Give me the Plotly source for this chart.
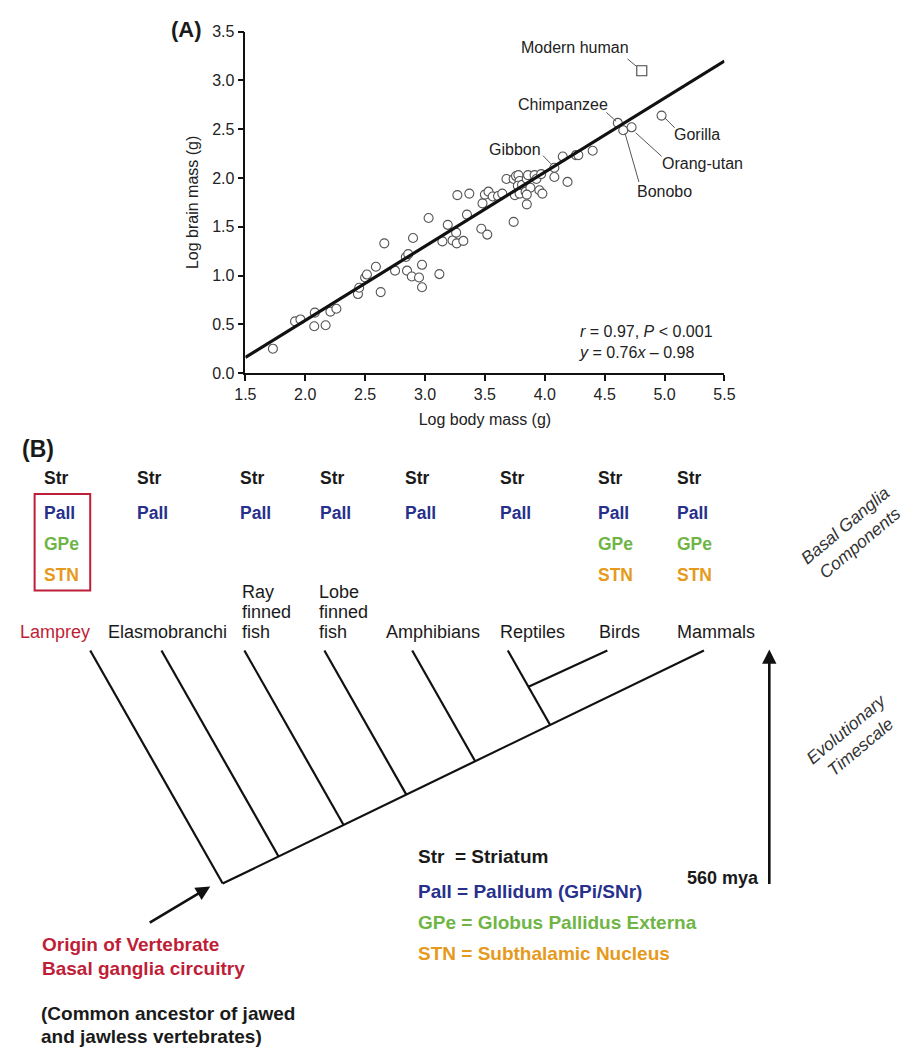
import plotly.graph_objects as go

# Reference frame is 921x1055; the page adds an 8px body margin, so the figure is
# sized 905x1039 and every reference pixel is shifted by OFF.
REF_W, REF_H = 921, 1055
OFF = 8
W, H = REF_W - 2 * OFF, REF_H - 2 * OFF
FONT = "Liberation Sans, Arial, Helvetica, sans-serif"
PAD = 3  # annotation inner padding

# ---------------- Panel A data ----------------
body_mass = [1.73, 1.915, 1.96, 2.08, 2.075, 2.17, 2.21, 2.26, 2.44, 2.45, 2.50, 2.515, 2.59, 2.63,
             2.66, 2.75, 2.84, 2.86, 2.85, 2.89, 2.90, 2.95, 2.975, 2.975, 3.03, 3.12, 3.145, 3.19,
             3.23, 3.26, 3.265, 3.32, 3.35, 3.27, 3.37, 3.47, 3.48, 3.50, 3.52, 3.53,
             3.565, 3.61, 3.645, 3.74, 3.68, 3.74, 3.76, 3.78, 3.79, 3.775, 3.81, 3.85, 3.86, 3.915,
             3.93, 3.97, 3.75, 3.79, 3.84, 3.88, 3.85, 3.85, 3.955, 3.98, 4.08, 4.19, 4.15, 4.26,
             4.28, 4.40]
brain_mass = [0.25, 0.53, 0.55, 0.62, 0.48, 0.49, 0.63, 0.66, 0.81, 0.875, 0.98, 1.01, 1.09, 0.83,
              1.33, 1.05, 1.19, 1.22, 1.05, 0.99, 1.385, 0.98, 1.11, 0.88, 1.59, 1.015, 1.35, 1.52,
              1.36, 1.44, 1.33, 1.355, 1.625, 1.825, 1.84, 1.48, 1.74, 1.83, 1.42, 1.86,
              1.81, 1.815, 1.84, 1.55, 1.99, 1.99, 2.02, 2.03, 1.97, 1.92, 1.93, 1.99, 2.03, 2.03,
              1.99, 2.04, 1.825, 1.84, 1.86, 1.90, 1.83, 1.73, 1.875, 1.84, 2.01, 1.96, 2.22, 2.235,
              2.235, 2.28]

ape_names = ["Gibbon", "Chimpanzee", "Bonobo", "Orang-utan", "Gorilla"]
ape_body = [4.08, 4.61, 4.655, 4.725, 4.975]
ape_brain = [2.105, 2.565, 2.49, 2.52, 2.64]

human_name = "Modern human"
human_body = [4.81]
human_brain = [3.10]

fit_slope = 0.76
fit_intercept = -0.98
fit_x = [1.5, 5.5]

x_ticks = [1.5, 2.0, 2.5, 3.0, 3.5, 4.0, 4.5, 5.0, 5.5]
y_ticks = [0.0, 0.5, 1.0, 1.5, 2.0, 2.5, 3.0, 3.5]

# label placement for named species: (text x, text y, leader start, leader end)
label_pos = {
    "Modern human": (4.254, 3.339, (4.691, 3.221), (4.767, 3.144)),
    "Chimpanzee": (4.148, 2.754, (4.514, 2.673), (4.596, 2.582)),
    "Gibbon": (3.754, 2.290, (3.985, 2.229), (4.052, 2.145)),
    "Gorilla": (5.272, 2.448, (5.003, 2.616), (5.085, 2.515)),
    "Orang-utan": (5.321, 2.148, (4.759, 2.464), (4.976, 2.222)),
    "Bonobo": (5.003, 1.866, (4.670, 2.458), (4.786, 1.960)),
}

# ---------------- Panel B data ----------------
taxa = ["Lamprey", "Elasmobranchi", "Ray\nfinned\nfish", "Lobe\nfinned\nfish",
        "Amphibians", "Reptiles", "Birds", "Mammals"]
has_pall = [True, True, True, True, True, True, True, True]
has_gpe_stn = [True, False, False, False, False, False, True, True]
legend_lines = [("Str  = Striatum", "str"),
                ("Pall = Pallidum (GPi/SNr)", "pall"),
                ("GPe = Globus Pallidus Externa", "gpe"),
                ("STN = Subthalamic Nucleus", "stn")]

COL = {"str": "#1a1a1a", "pall": "#27318c", "gpe": "#6fb545", "stn": "#e69a1c",
       "red": "#be1e37", "pt": "#555555"}

fig = go.Figure()

fig.add_trace(go.Scatter(x=body_mass, y=brain_mass, mode="markers",
                         marker=dict(symbol="circle", size=9, color="white",
                                     line=dict(color=COL["pt"], width=1.1)),
                         showlegend=False, hoverinfo="skip"))
fig.add_trace(go.Scatter(x=ape_body, y=ape_brain, mode="markers",
                         marker=dict(symbol="circle", size=9, color="white",
                                     line=dict(color=COL["pt"], width=1.1)),
                         showlegend=False, hoverinfo="skip"))
fig.add_trace(go.Scatter(x=fit_x, y=[fit_slope * v + fit_intercept for v in fit_x],
                         mode="lines", line=dict(color="#111111", width=3.2),
                         showlegend=False, hoverinfo="skip"))
fig.add_trace(go.Scatter(x=human_body, y=human_brain, mode="markers",
                         marker=dict(symbol="square", size=10, color="white",
                                     line=dict(color="#444444", width=1.1)),
                         showlegend=False, hoverinfo="skip"))

ann = []
shapes = []

for name, (tx, ty, p0, p1) in label_pos.items():
    ann.append(dict(x=tx, y=ty, xref="x", yref="y", text=name, showarrow=False,
                    font=dict(family=FONT, size=16, color="#222222")))
    shapes.append(dict(type="line", xref="x", yref="y", x0=p0[0], y0=p0[1], x1=p1[0], y1=p1[1],
                       line=dict(color="#555555", width=1)))

ann.append(dict(x=4.294, y=0.318, xref="x", yref="y", xanchor="left", yanchor="middle",
                align="left", showarrow=False, xshift=-PAD,
                text="<i>r</i> = 0.97, <i>P</i> &lt; 0.001<br><i>y</i> = 0.76<i>x</i> – 0.98",
                font=dict(family=FONT, size=16, color="#222222")))


def P(px, py):
    return (px - OFF) / W, 1 - (py - OFF) / H


def text_at(px, py, s, color="#1a1a1a", size=18, bold=False, xanchor="left", italic=False,
            angle=0, yanchor="middle"):
    if xanchor == "left":
        px -= PAD
    elif xanchor == "right":
        px += PAD
    x, y = P(px, py)
    t = s
    if bold:
        t = "<b>" + t + "</b>"
    if italic:
        t = "<i>" + t + "</i>"
    ann.append(dict(x=x, y=y, xref="paper", yref="paper", text=t, showarrow=False,
                    xanchor=xanchor, yanchor=yanchor, textangle=angle,
                    font=dict(family=FONT, size=size, color=color)))


text_at(165, 22, "(A)", size=22, bold=True)
text_at(12, 448, "(B)", size=23, bold=True)

# component columns
comp_x = [35, 130, 235, 317, 405, 502, 602, 683]
row_y = {"str": 478, "pall": 513, "gpe": 545, "stn": 576}
for i, cx in enumerate(comp_x):
    text_at(cx, row_y["str"], "Str", COL["str"], 17.5, bold=True)
    if has_pall[i]:
        text_at(cx, row_y["pall"], "Pall", COL["pall"], 17.5, bold=True)
    if has_gpe_stn[i]:
        text_at(cx, row_y["gpe"], "GPe", COL["gpe"], 17.5, bold=True)
        text_at(cx, row_y["stn"], "STN", COL["stn"], 17.5, bold=True)

bx0, by0 = P(24, 592)
bx1, by1 = P(81, 494)
shapes.append(dict(type="rect", xref="paper", yref="paper", x0=bx0, x1=bx1, y0=by0, y1=by1,
                   line=dict(color=COL["red"], width=2)))

# taxa labels
taxa_x = [10, 100, 237, 316, 385, 502, 603, 683]
for i, (tx, name) in enumerate(zip(taxa_x, taxa)):
    lines = name.split("\n")
    for j, ln in enumerate(lines):
        yy = 634 - 20 * (len(lines) - 1 - j)
        text_at(tx, yy, ln, COL["red"] if i == 0 else "#1a1a1a", 18)

# tree geometry (reference pixel space)
root = (216.7, 890.0)
tip_y = 653.0
tip_x = [81, 154, 239, 321, 411, 509, 611, 710]
back_slope = (tip_y - root[1]) / (tip_x[-1] - root[0])
branch_slope = 1.745


def meet_backbone(tx):
    x = (root[1] - tip_y + branch_slope * tx - back_slope * root[0]) / (branch_slope - back_slope)
    return x, tip_y + branch_slope * (x - tx)


def seg(a, b, w=2.2):
    x0, y0 = P(*a)
    x1, y1 = P(*b)
    shapes.append(dict(type="line", xref="paper", yref="paper", x0=x0, y0=y0, x1=x1, y1=y1,
                       line=dict(color="#111111", width=w)))


seg(root, (tip_x[-1], tip_y))
for k in [0, 1, 2, 3, 4, 5]:
    seg((tip_x[k], tip_y), meet_backbone(tip_x[k]))
rep_node_y = 690.0
rep_node_x = tip_x[5] + (rep_node_y - tip_y) / branch_slope
seg((tip_x[6], tip_y), (rep_node_x, rep_node_y))

# arrows
ax_, ay_ = P(204, 893)
ann.append(dict(x=ax_, y=ay_, xref="paper", yref="paper", ax=-62, ay=37, text="",
                showarrow=True, arrowhead=2, arrowsize=1.1, arrowwidth=2.6, arrowcolor="#111111"))
vx, vy = P(777, 652)
ann.append(dict(x=vx, y=vy, xref="paper", yref="paper", ax=0, ay=236, text="",
                showarrow=True, arrowhead=2, arrowsize=1.1, arrowwidth=2.6, arrowcolor="#111111"))

text_at(765, 884, "560 mya", "#1a1a1a", 18, bold=True, xanchor="right")
text_at(862, 535, "Basal Ganglia<br>Components", "#333333", 17.5, italic=True, xanchor="center",
        angle=-40)
text_at(864, 742, "Evolutionary<br>Timescale", "#333333", 17.5, italic=True, xanchor="center",
        angle=-40)

leg_y = [862, 898, 930, 961]
for (s, key), yy in zip(legend_lines, leg_y):
    text_at(418, yy, s, COL[key], 19, bold=True)

text_at(33, 952, "Origin of Vertebrate", COL["red"], 19, bold=True)
text_at(33, 976, "Basal ganglia circuitry", COL["red"], 19, bold=True)
text_at(32, 1022, "(Common ancestor of jawed", "#1a1a1a", 19, bold=True)
text_at(32, 1045, "and jawless vertebrates)", "#1a1a1a", 19, bold=True)

axis_common = dict(showline=True, linecolor="#111111", linewidth=1.5, ticks="outside",
                   ticklen=6, tickwidth=1.5, tickcolor="#111111", showgrid=False,
                   zeroline=False, tickfont=dict(family=FONT, size=16, color="#222222"))

xd0, _ = P(240, 0)
xd1, _ = P(731, 0)
_, yd0 = P(0, 371)
_, yd1 = P(0, 24)

fig.update_layout(
    width=W, height=H,
    margin=dict(l=0, r=0, t=0, b=0),
    paper_bgcolor="white", plot_bgcolor="white",
    font=dict(family=FONT, color="#222222"),
    xaxis=dict(domain=[xd0, xd1], range=[1.5, 5.5], tickvals=x_ticks,
               ticktext=[f"{v:.1f}" for v in x_ticks],
               title=dict(text="Log body mass (g)", font=dict(family=FONT, size=16), standoff=12),
               **axis_common),
    yaxis=dict(domain=[yd0, yd1], range=[0, 3.5], tickvals=y_ticks,
               ticktext=[f"{v:.1f}" for v in y_ticks],
               title=dict(text="Log brain mass (g)", font=dict(family=FONT, size=16), standoff=10),
               **axis_common),
    annotations=ann,
    shapes=shapes,
)

fig.write_html("out.html", config={"displayModeBar": False})
